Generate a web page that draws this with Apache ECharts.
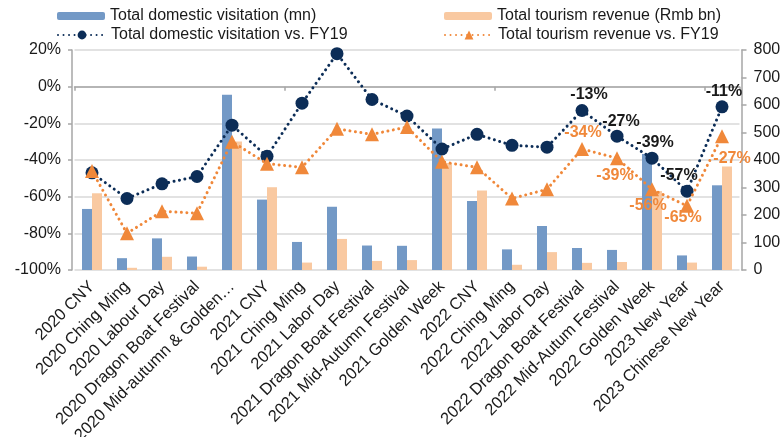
<!DOCTYPE html>
<html>
<head>
<meta charset="utf-8">
<script src="https://cdn.jsdelivr.net/npm/echarts@6/dist/echarts.min.js"></script>
<style>
  html, body { margin: 0; padding: 0; background: #ffffff; }
  #chart { width: 783px; height: 437px; }
</style>
</head>
<body>
<div id="chart"></div>
<script>
// Holiday periods
const categories = [
  '2020 CNY', '2020 Ching Ming', '2020 Labour Day', '2020 Dragon Boat Festival',
  '2020 Mid-autumn & Golden\u2026', '2021 CNY', '2021 Ching Ming', '2021 Labor Day',
  '2021 Dragon Boat Festival', '2021 Mid-Autumn Festival', '2021 Golden Week',
  '2022 CNY', '2022 Ching Ming', '2022 Labor Day', '2022 Dragon Boat Festival',
  '2022 Mid-Autum Festival', '2022 Golden Week', '2023 New Year', '2023 Chinese New Year'
];

// Total domestic visitation (mn)
const visitation = [222, 43, 115, 49, 637, 256, 102, 230, 89, 88, 515, 251, 75, 160, 80, 73, 422, 53, 308];
// Total tourism revenue (Rmb bn)
const revenue = [279, 8, 48, 12, 467, 301, 27, 113, 33, 36, 389, 289, 19, 65, 26, 29, 287, 27, 376];
// Recovery vs. FY19 (%)
const visitationVsFY19 = [-47, -61, -53, -49, -21, -38, -9, 18, -7, -16, -34, -26, -32, -33, -13, -27, -39, -57, -11];
const revenueVsFY19 = [-46, -80, -68, -69, -30, -42, -44, -23, -26, -22, -41, -44, -61, -56, -34, -39, -56, -65, -27];

// Left axis ticks (%) and right axis ticks
const pctTicks = [-100, -80, -60, -40, -20, 0, 20];
const valTicks = [0, 100, 200, 300, 400, 500, 600, 700, 800];

// Which points carry a value label, and where the label sits around the marker
const visitLabelOffsets = { 14: [7, -16], 15: [4, -15], 16: [3, -16], 17: [-8, -16], 18: [2, -15] };
const revenueLabelOffsets = { 14: [1, -16], 15: [-2, 17], 16: [-4, 16], 17: [-4, 12], 18: [10, 22] };

const FONT = 'Liberation Sans, Arial, sans-serif';
const NAVY = '#0c2d57';
const ORANGE = '#f0883a';
const BLUE = '#7399c6';
const PEACH = '#f9c9a1';
const AXIS_GREY = '#a6a6a6';
// round dots: near-zero dash with a round cap
const DOTS = [0.01, 5.5];

function withLabels(values, offsets, color) {
  return values.map((v, i) => {
    if (!(i in offsets)) return v;
    return {
      value: v,
      label: {
        show: true,
        position: 'inside',
        offset: offsets[i],
        formatter: '{c}%',
        color: color,
        fontFamily: FONT,
        fontSize: 16,
        fontWeight: 'bold'
      }
    };
  });
}

const chart = echarts.init(document.getElementById('chart'), null, { renderer: 'canvas' });

const legendText = { fontFamily: FONT, fontSize: 16, color: '#1a1a1a' };

chart.setOption({
  animation: false,
  backgroundColor: '#ffffff',
  textStyle: { fontFamily: FONT },
  legend: [
    { data: ['Total domestic visitation (mn)'], left: 57, top: 8, padding: 0,
      itemWidth: 48, itemHeight: 8, textStyle: legendText },
    { data: ['Total tourism revenue (Rmb bn)'], left: 444, top: 8, padding: 0,
      itemWidth: 48, itemHeight: 8, textStyle: legendText },
    { data: ['Total domestic visitation vs. FY19'], left: 57, top: 27, padding: 0,
      itemWidth: 48, itemHeight: 11, textStyle: legendText },
    { data: ['Total tourism revenue vs. FY19'], left: 444, top: 27, padding: 0,
      itemWidth: 48, itemHeight: 11, textStyle: legendText }
  ],
  grid: { left: 74.5, right: 43.5, top: 50, bottom: 167, containLabel: false, outerBoundsMode: 'none' },
  xAxis: [
    {
      type: 'category',
      data: categories,
      position: 'bottom',
      axisLine: { show: false },
      axisTick: { show: false },
      axisLabel: {
        interval: 0,
        rotate: 45,
        margin: 14,
        fontFamily: FONT,
        fontSize: 16.5,
        color: '#1a1a1a'
      }
    },
    {
      // category baseline drawn across the 0% level
      type: 'category',
      data: categories,
      position: 'top',
      axisLine: { show: true, onZero: true, onZeroAxisIndex: 0, lineStyle: { color: AXIS_GREY, width: 1.5 } },
      axisTick: { show: true, inside: true, length: 4, lineStyle: { color: AXIS_GREY, width: 1.5 } },
      axisLabel: { show: false },
      splitLine: { show: false }
    }
  ],
  yAxis: [
    {
      type: 'value',
      min: pctTicks[0],
      max: pctTicks[pctTicks.length - 1],
      interval: 20,
      offset: 2.5,
      axisLine: { show: true, lineStyle: { color: AXIS_GREY, width: 1.5 } },
      axisTick: { show: true, length: 4, lineStyle: { color: AXIS_GREY, width: 1.5 } },
      axisLabel: { formatter: '{value}%', margin: 11, fontFamily: FONT, fontSize: 16, color: '#1a1a1a' },
      splitLine: { show: true, lineStyle: { color: '#d9d9d9', width: 1.5 } }
    },
    {
      type: 'value',
      min: valTicks[0],
      max: valTicks[valTicks.length - 1],
      interval: 100,
      offset: 2,
      position: 'right',
      axisLine: { show: true, lineStyle: { color: AXIS_GREY, width: 1.5 } },
      axisTick: { show: true, length: 5, lineStyle: { color: AXIS_GREY, width: 1.5 } },
      axisLabel: { margin: 12, fontFamily: FONT, fontSize: 16, color: '#1a1a1a' },
      splitLine: { show: false }
    }
  ],
  series: [
    {
      name: 'Total domestic visitation (mn)',
      type: 'bar',
      xAxisIndex: 0,
      yAxisIndex: 1,
      data: visitation,
      barWidth: 10,
      barGap: '0%',
      itemStyle: { color: BLUE },
      z: 2
    },
    {
      name: 'Total tourism revenue (Rmb bn)',
      type: 'bar',
      xAxisIndex: 0,
      yAxisIndex: 1,
      data: revenue,
      barWidth: 10,
      barGap: '0%',
      itemStyle: { color: PEACH },
      z: 2
    },
    {
      name: 'Total domestic visitation vs. FY19',
      type: 'line',
      xAxisIndex: 0,
      yAxisIndex: 0,
      data: withLabels(visitationVsFY19, visitLabelOffsets, '#1a1a1a'),
      symbol: 'circle',
      symbolSize: 13,
      lineStyle: { color: NAVY, width: 3, type: DOTS, cap: 'round' },
      itemStyle: { color: NAVY, borderWidth: 0 },
      z: 3
    },
    {
      name: 'Total tourism revenue vs. FY19',
      type: 'line',
      xAxisIndex: 0,
      yAxisIndex: 0,
      data: withLabels(revenueVsFY19, revenueLabelOffsets, ORANGE),
      symbol: 'triangle',
      symbolSize: 14,
      lineStyle: { color: ORANGE, width: 3, type: DOTS, cap: 'round' },
      itemStyle: { color: ORANGE, borderWidth: 0 },
      z: 4
    }
  ]
});
</script>
</body>
</html>
